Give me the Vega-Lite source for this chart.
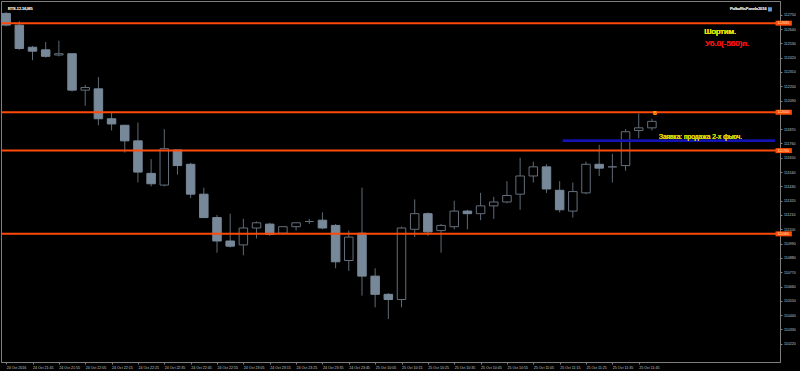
{
  "$schema": "https://vega.github.io/schema/vega-lite/v6.json",
  "width": 779,
  "height": 361,
  "autosize": {"type": "none"},
  "padding": {"left": 1, "top": 1, "right": 20, "bottom": 9},
  "background": "#000000",
  "config": {
    "view": {"stroke": "#7f7f7f", "strokeWidth": 1},
    "font": "Liberation Sans",
    "axis": {
      "labelOverlap": false,
      "labelBound": false,
      "labelFlush": false,
      "labelFontSize": 3.6,
      "labelFont": "Liberation Sans",
      "labelColor": "#c8c8c8",
      "tickSize": 2,
      "tickColor": "#7f7f7f",
      "domainColor": "#7f7f7f",
      "grid": false
    }
  },
  "datasets": {
    "candles": [
      {"i": 0, "time": "24 Oct 21:35", "open": 112760, "high": 112770, "low": 112660, "close": 112670},
      {"i": 1, "time": "24 Oct 21:40", "open": 112670, "high": 112700, "low": 112480, "close": 112490},
      {"i": 2, "time": "24 Oct 21:45", "open": 112500, "high": 112510, "low": 112400, "close": 112470},
      {"i": 3, "time": "24 Oct 21:50", "open": 112480, "high": 112540, "low": 112420, "close": 112430},
      {"i": 4, "time": "24 Oct 21:55", "open": 112440, "high": 112550, "low": 112430, "close": 112450},
      {"i": 5, "time": "24 Oct 22:00", "open": 112450, "high": 112450, "low": 112160, "close": 112170},
      {"i": 6, "time": "24 Oct 22:05", "open": 112170, "high": 112210, "low": 112050, "close": 112190},
      {"i": 7, "time": "24 Oct 22:10", "open": 112180, "high": 112270, "low": 111900, "close": 111950},
      {"i": 8, "time": "24 Oct 22:15", "open": 111950, "high": 112000, "low": 111860, "close": 111910},
      {"i": 9, "time": "24 Oct 22:20", "open": 111900, "high": 111900, "low": 111690, "close": 111780},
      {"i": 10, "time": "24 Oct 22:25", "open": 111780, "high": 111920, "low": 111460, "close": 111540},
      {"i": 11, "time": "24 Oct 22:30", "open": 111530, "high": 111640, "low": 111430, "close": 111450},
      {"i": 12, "time": "24 Oct 22:35", "open": 111440, "high": 111870, "low": 111430, "close": 111720},
      {"i": 13, "time": "24 Oct 22:40", "open": 111710, "high": 111710, "low": 111520, "close": 111590},
      {"i": 14, "time": "24 Oct 22:45", "open": 111600, "high": 111610, "low": 111340, "close": 111370},
      {"i": 15, "time": "24 Oct 22:50", "open": 111370, "high": 111420, "low": 111190, "close": 111190},
      {"i": 16, "time": "24 Oct 22:55", "open": 111190, "high": 111210, "low": 110920, "close": 111010},
      {"i": 17, "time": "24 Oct 23:00", "open": 111010, "high": 111220, "low": 110960, "close": 110970},
      {"i": 18, "time": "24 Oct 23:05", "open": 110980, "high": 111180, "low": 110900, "close": 111110},
      {"i": 19, "time": "24 Oct 23:10", "open": 111110, "high": 111160, "low": 111030, "close": 111150},
      {"i": 20, "time": "24 Oct 23:15", "open": 111140, "high": 111150, "low": 111050, "close": 111060},
      {"i": 21, "time": "24 Oct 23:20", "open": 111070, "high": 111120, "low": 111060, "close": 111120},
      {"i": 22, "time": "24 Oct 23:25", "open": 111120, "high": 111150, "low": 111090, "close": 111150},
      {"i": 23, "time": "24 Oct 23:30", "open": 111160, "high": 111180, "low": 111140, "close": 111160},
      {"i": 24, "time": "24 Oct 23:35", "open": 111170, "high": 111230, "low": 111100, "close": 111110},
      {"i": 25, "time": "24 Oct 23:40", "open": 111130, "high": 111140, "low": 110800, "close": 110850},
      {"i": 26, "time": "24 Oct 23:45", "open": 110860, "high": 111090, "low": 110780, "close": 111040},
      {"i": 27, "time": "25 Oct 10:00", "open": 111070, "high": 111420, "low": 110590, "close": 110740},
      {"i": 28, "time": "25 Oct 10:05", "open": 110740, "high": 110800, "low": 110500, "close": 110600},
      {"i": 29, "time": "25 Oct 10:10", "open": 110600, "high": 110610, "low": 110410, "close": 110560},
      {"i": 30, "time": "25 Oct 10:15", "open": 110560, "high": 111120, "low": 110500, "close": 111110},
      {"i": 31, "time": "25 Oct 10:20", "open": 111100, "high": 111330, "low": 111040, "close": 111220},
      {"i": 32, "time": "25 Oct 10:25", "open": 111220, "high": 111230, "low": 111050, "close": 111080},
      {"i": 33, "time": "25 Oct 10:30", "open": 111090, "high": 111140, "low": 110920, "close": 111130},
      {"i": 34, "time": "25 Oct 10:35", "open": 111120, "high": 111320, "low": 111100, "close": 111240},
      {"i": 35, "time": "25 Oct 10:40", "open": 111240, "high": 111250, "low": 111100, "close": 111220},
      {"i": 36, "time": "25 Oct 10:45", "open": 111220, "high": 111380, "low": 111170, "close": 111280},
      {"i": 37, "time": "25 Oct 10:50", "open": 111280, "high": 111350, "low": 111180, "close": 111310},
      {"i": 38, "time": "25 Oct 10:55", "open": 111310, "high": 111470, "low": 111300, "close": 111360},
      {"i": 39, "time": "25 Oct 11:00", "open": 111370, "high": 111650, "low": 111250, "close": 111510},
      {"i": 40, "time": "25 Oct 11:05", "open": 111510, "high": 111620, "low": 111460, "close": 111580},
      {"i": 41, "time": "25 Oct 11:10", "open": 111580, "high": 111600, "low": 111380, "close": 111410},
      {"i": 42, "time": "25 Oct 11:15", "open": 111400, "high": 111470, "low": 111230, "close": 111250},
      {"i": 43, "time": "25 Oct 11:20", "open": 111240, "high": 111460, "low": 111190, "close": 111390},
      {"i": 44, "time": "25 Oct 11:25", "open": 111380, "high": 111620, "low": 111370, "close": 111600},
      {"i": 45, "time": "25 Oct 11:30", "open": 111600, "high": 111750, "low": 111510, "close": 111570},
      {"i": 46, "time": "25 Oct 11:35", "open": 111580, "high": 111680, "low": 111460, "close": 111580},
      {"i": 47, "time": "25 Oct 11:40", "open": 111590, "high": 111870, "low": 111550, "close": 111850},
      {"i": 48, "time": "25 Oct 11:45", "open": 111860, "high": 111990, "low": 111800, "close": 111880},
      {"i": 49, "time": "25 Oct 11:50", "open": 111880, "high": 111950, "low": 111860, "close": 111930}
    ],
    "levels": [
      {"price": 112685},
      {"price": 112000},
      {"price": 111705},
      {"price": 111065}
    ]
  },
  "layer": [
    {
      "data": {"name": "candles"},
      "mark": {"type": "rule", "color": "#5f6a75", "strokeWidth": 1, "clip": true},
      "encoding": {
        "x": {
          "field": "i", "type": "quantitative", "title": null,
          "scale": {"domain": [-0.011, 58.34], "nice": false, "zero": false},
          "axis": {
            "orient": "bottom",
            "tickCount": 200,
            "values": [0, 2, 4, 6, 8, 10, 12, 14, 16, 18, 20, 22, 24, 26, 28, 30, 32, 34, 36, 38, 40, 42, 44, 46, 48],
            "labelExpr": "['24 Oct 2016','24 Oct 21:45','24 Oct 21:55','24 Oct 22:05','24 Oct 22:15','24 Oct 22:25','24 Oct 22:35','24 Oct 22:45','24 Oct 22:55','24 Oct 23:05','24 Oct 23:15','24 Oct 23:25','24 Oct 23:35','24 Oct 23:45','25 Oct 10:05','25 Oct 10:15','25 Oct 10:25','25 Oct 10:35','25 Oct 10:45','25 Oct 10:55','25 Oct 11:05','25 Oct 11:15','25 Oct 11:25','25 Oct 11:35','25 Oct 11:45'][datum.value / 2]",
            "labelAlign": "left",
            "labelBaseline": "top",
            "labelPadding": 1,
            "labelOverlap": false
          }
        },
        "y": {
          "field": "low", "type": "quantitative", "title": null,
          "scale": {"domain": [110118, 112817], "nice": false, "zero": false},
          "axis": {
            "orient": "right",
            "tickCount": 200,
            "values": [112750, 112640, 112530, 112420, 112310, 112200, 112090, 111870, 111760, 111650, 111540, 111430, 111320, 111210, 111100, 110990, 110880, 110770, 110660, 110550, 110440, 110330, 110220],
            "format": "d",
            "labelPadding": 1.5,
            "labelOverlap": false
          }
        },
        "y2": {"field": "high"}
      }
    },
    {
      "data": {"name": "candles"},
      "mark": {"type": "bar", "width": 8.5, "strokeWidth": 1, "clip": true},
      "encoding": {
        "x": {"field": "i", "type": "quantitative", "title": null},
        "y": {"field": "open", "type": "quantitative", "title": null},
        "y2": {"field": "close"},
        "fill": {"condition": {"test": "datum.open > datum.close", "value": "#778899"}, "value": "#000000"},
        "stroke": {"condition": {"test": "datum.open > datum.close", "value": "#778899"}, "value": "#64707c"}
      }
    },
    {
      "data": {"name": "levels"},
      "mark": {"type": "rule", "color": "#ff4a0a", "strokeWidth": 2},
      "encoding": {
        "y": {"field": "price", "type": "quantitative", "title": null}
      }
    },
    {
      "data": {"name": "levels"},
      "mark": {"type": "rule", "color": "#1414b4", "strokeWidth": 2},
      "encoding": {
        "x": {"datum": 42.24, "type": "quantitative"},
        "x2": {"datum": 58.34},
        "y": {"datum": 111780, "type": "quantitative"}
      }
    },
    {
      "data": {"name": "levels"},
      "mark": {"type": "bar", "orient": "horizontal", "height": 5, "color": "#ff4a0a", "clip": false},
      "encoding": {
        "x": {"datum": 58.38, "type": "quantitative"},
        "x2": {"datum": 59.62},
        "y": {"field": "price", "type": "quantitative", "title": null}
      }
    },
    {
      "data": {"name": "levels"},
      "mark": {"type": "text", "align": "left", "baseline": "middle", "fontSize": 3.6, "font": "Liberation Sans", "color": "#ffe6d0", "dx": 2},
      "encoding": {
        "x": {"datum": 58.38, "type": "quantitative"},
        "y": {"field": "price", "type": "quantitative", "title": null},
        "text": {"field": "price", "type": "quantitative", "format": "d"}
      }
    },
    {
      "data": {"name": "levels"},
      "mark": {"type": "text", "align": "left", "baseline": "middle", "fontSize": 3.8, "font": "Liberation Sans", "color": "#d0d0d0"},
      "encoding": {
        "x": {"datum": 0.14, "type": "quantitative"},
        "y": {"datum": 112791, "type": "quantitative"},
        "text": {"value": "RTS-12.16,M5"}
      }
    },
    {
      "data": {"name": "levels"},
      "mark": {"type": "text", "align": "right", "baseline": "middle", "fontSize": 3.9, "font": "Liberation Sans", "color": "#d0d0d0"},
      "encoding": {
        "x": {"datum": 57.7, "type": "quantitative"},
        "y": {"datum": 112791, "type": "quantitative"},
        "text": {"value": "PolbaRtsPanelo2016"}
      }
    },
    {
      "data": {"name": "levels"},
      "mark": {"type": "point", "shape": "square", "filled": true, "size": 14, "color": "#5b9bd5"},
      "encoding": {
        "x": {"datum": 57.95, "type": "quantitative"},
        "y": {"datum": 112791, "type": "quantitative"}
      }
    },
    {
      "data": {"name": "levels"},
      "mark": {"type": "text", "align": "left", "baseline": "middle", "fontSize": 8, "font": "Liberation Sans", "color": "#e0e000"},
      "encoding": {
        "x": {"datum": 52.97, "type": "quantitative"},
        "y": {"datum": 112620, "type": "quantitative"},
        "text": {"value": "Шортим."}
      }
    },
    {
      "data": {"name": "levels"},
      "mark": {"type": "text", "align": "left", "baseline": "middle", "fontSize": 8, "font": "Liberation Sans", "color": "#e81010"},
      "encoding": {
        "x": {"datum": 53.02, "type": "quantitative"},
        "y": {"datum": 112528, "type": "quantitative"},
        "text": {"value": "У6.0(-560)п."}
      }
    },
    {
      "data": {"name": "levels"},
      "mark": {"type": "text", "align": "left", "baseline": "middle", "fontSize": 6.6, "font": "Liberation Sans", "color": "#d4d400"},
      "encoding": {
        "x": {"datum": 49.53, "type": "quantitative"},
        "y": {"datum": 111811, "type": "quantitative"},
        "text": {"value": "Заявка: продажа 2-х фьюч."}
      }
    },
    {
      "data": {"name": "levels"},
      "mark": {"type": "text", "align": "center", "baseline": "middle", "fontSize": 6, "font": "Liberation Sans", "color": "#ffa500"},
      "encoding": {
        "x": {"datum": 49.22, "type": "quantitative"},
        "y": {"datum": 111998, "type": "quantitative"},
        "text": {"value": "8"}
      }
    }
  ]
}
